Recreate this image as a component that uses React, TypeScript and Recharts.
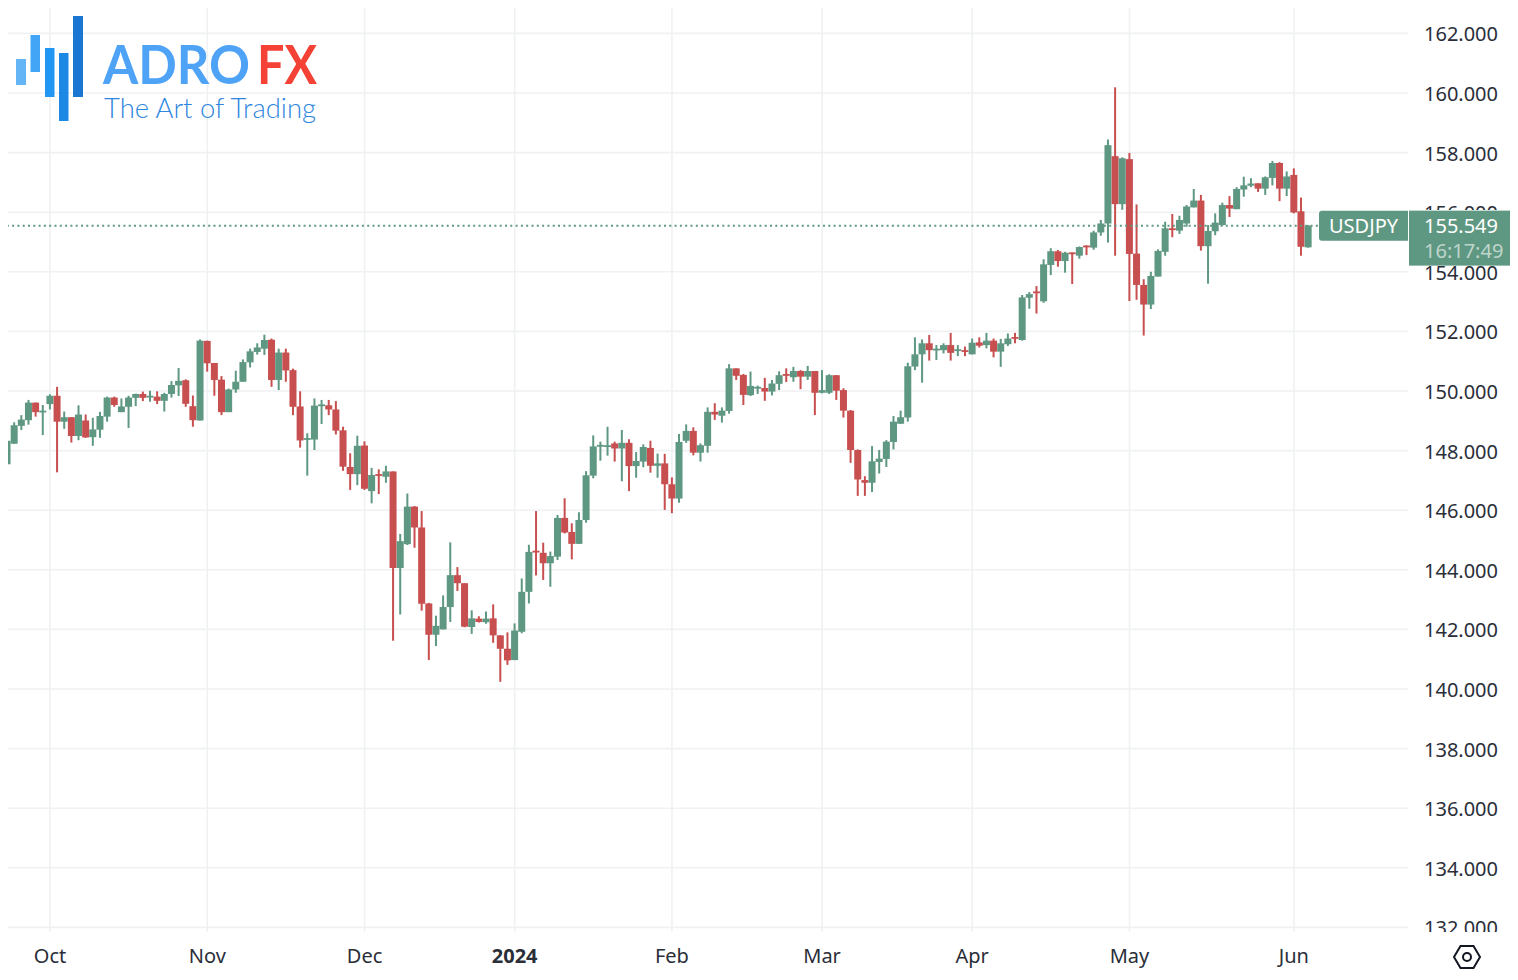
import { Bar, CartesianGrid, ComposedChart, ReferenceLine, XAxis, YAxis } from 'recharts'

const opens = [
  147.54, 148.23, 148.83, 149.02, 149.61, 149.31, 149.56, 149.84, 148.97, 149.12,
  148.49, 149.01, 148.45, 148.7, 149.14, 149.78, 149.29, 149.47, 149.77, 149.9,
  149.82, 149.81, 149.67, 149.9, 150.19, 150.36, 149.49, 149.01, 151.68, 150.94,
  150.38, 149.29, 150.05, 150.31, 150.96, 151.31, 151.42, 151.72, 150.37, 151.29,
  150.7, 149.48, 148.38, 148.37, 149.52, 149.52, 149.38, 148.68, 147.45, 147.21,
  148.17, 146.64, 147.21, 147.12, 147.3, 144.06, 144.86, 146.12, 145.42, 142.87,
  141.82, 142.0, 142.75, 143.82, 143.55, 142.08, 142.36, 142.24, 142.37, 141.8,
  141.35, 140.97, 141.92, 143.26, 144.64, 144.57, 144.22, 144.44, 145.74, 145.27,
  144.87, 145.67, 147.16, 148.13, 148.13, 148.24, 148.07, 148.26, 147.48, 147.63,
  148.09, 147.49, 147.57, 146.87, 146.39, 148.33, 148.66, 147.93, 148.16, 149.3,
  149.17, 149.33, 150.76, 150.54, 149.86, 150.1, 150.1, 149.98, 150.24, 150.57,
  150.46, 150.67, 150.48, 150.67, 149.94, 149.94, 150.53, 150.03, 149.34, 148.02,
  147.01, 146.92, 147.62, 147.72, 148.29, 148.9, 149.11, 150.82, 151.23, 151.6,
  151.37, 151.37, 151.54, 151.35, 151.37, 151.23, 151.63, 151.54, 151.69, 151.32,
  151.57, 151.81, 151.71, 153.13, 153.34, 153.01, 154.23, 154.69, 154.36, 154.65,
  154.54, 154.88, 154.81, 155.32, 155.62, 157.88, 156.27, 157.78, 154.61, 153.56,
  152.9, 153.84, 154.67, 155.46, 155.38, 155.62, 156.16, 156.39, 154.86, 155.36,
  155.57, 156.24, 156.1, 156.76, 156.89, 156.97, 156.79, 157.15, 157.65, 156.79,
  157.25, 156.03, 154.82,
]

const highs = [
  148.33, 148.95, 149.19, 149.7, 149.61, 149.53, 149.89, 150.14, 149.31, 149.12,
  149.52, 149.21, 149.1, 149.3, 149.81, 149.81, 149.75, 149.84, 149.91, 149.98,
  150.01, 149.99, 149.94, 150.33, 150.77, 150.39, 149.85, 151.73, 151.69, 150.94,
  150.5, 150.08, 150.68, 151.06, 151.42, 151.6, 151.89, 151.76, 151.42, 151.42,
  150.75, 149.99, 148.58, 149.75, 149.7, 149.7, 149.66, 148.8, 147.91, 148.5,
  148.31, 147.42, 147.37, 147.49, 147.3, 145.2, 146.56, 146.14, 145.97, 142.89,
  142.46, 143.14, 144.92, 144.09, 143.55, 142.64, 142.44, 142.6, 142.84, 141.8,
  141.9, 142.2, 143.71, 144.84, 145.97, 144.91, 144.61, 145.84, 146.4, 145.56,
  145.93, 147.31, 148.51, 148.3, 148.8, 148.3, 148.69, 148.38, 147.95, 148.21,
  148.33, 147.9, 147.89, 147.1, 148.56, 148.88, 148.78, 148.24, 149.45, 149.59,
  149.45, 150.9, 150.76, 150.57, 150.65, 150.18, 150.44, 150.37, 150.66, 150.76,
  150.81, 150.7, 150.84, 150.67, 150.7, 150.56, 150.53, 150.09, 149.36, 148.04,
  147.14, 148.15, 148.02, 148.35, 149.16, 149.34, 150.95, 151.8, 151.73, 151.88,
  151.54, 151.6, 151.95, 151.54, 151.49, 151.76, 151.8, 151.95, 151.76, 151.75,
  151.93, 151.95, 153.22, 153.32, 153.52, 154.42, 154.79, 154.73, 154.67, 154.65,
  154.85, 154.89, 155.38, 155.74, 158.44, 160.19, 157.84, 157.99, 156.26, 153.75,
  154.0, 154.75, 155.68, 155.94, 155.88, 156.24, 156.78, 156.58, 155.57, 155.96,
  156.32, 156.54, 156.84, 157.19, 157.14, 156.97, 157.2, 157.72, 157.68, 157.37,
  157.47, 156.49, 155.57,
]

const lows = [
  147.54, 148.23, 148.69, 148.87, 149.14, 148.52, 149.38, 147.27, 148.73, 148.27,
  148.35, 148.43, 148.16, 148.43, 148.97, 149.47, 149.29, 148.76, 149.49, 149.66,
  149.64, 149.56, 149.31, 149.78, 149.83, 149.47, 148.8, 149.01, 150.65, 149.84,
  149.19, 149.29, 149.94, 150.31, 150.79, 151.22, 151.21, 150.14, 150.03, 150.31,
  149.19, 148.1, 147.16, 148.02, 148.89, 149.19, 148.54, 147.32, 146.68, 146.84,
  146.68, 146.23, 146.54, 146.92, 141.62, 142.5, 144.83, 144.74, 142.63, 140.97,
  141.44, 142.0, 142.25, 143.29, 142.07, 141.85, 142.23, 142.19, 141.55, 140.24,
  140.81, 140.97, 141.87, 142.87, 143.81, 143.66, 143.43, 144.33, 145.22, 144.35,
  144.87, 145.58, 147.07, 147.66, 147.83, 147.63, 146.97, 146.64, 147.09, 147.44,
  147.26, 147.09, 146.01, 145.9, 146.25, 148.26, 147.84, 147.63, 147.93, 149.03,
  148.94, 149.24, 150.37, 149.53, 149.83, 149.9, 149.67, 149.85, 150.03, 150.3,
  150.31, 150.06, 150.37, 149.19, 149.92, 149.9, 149.7, 149.11, 147.59, 146.48,
  146.48, 146.61, 147.23, 147.45, 148.04, 148.9, 148.97, 150.7, 150.28, 151.02,
  151.04, 151.26, 151.02, 151.17, 151.17, 151.23, 151.46, 151.43, 151.13, 150.81,
  151.51, 151.6, 151.69, 152.76, 152.6, 152.96, 153.89, 154.17, 153.97, 153.59,
  154.44, 154.56, 154.74, 155.21, 154.98, 154.54, 156.08, 153.02, 153.06, 151.86,
  152.75, 153.84, 154.54, 155.16, 155.27, 155.51, 156.16, 154.71, 153.6, 155.23,
  155.55, 155.84, 156.1, 156.52, 156.84, 156.68, 156.58, 156.9, 156.37, 156.54,
  155.96, 154.54, 154.81,
]

const closes = [
  148.33, 148.85, 149.04, 149.61, 149.29, 149.34, 149.84, 148.97, 149.12, 148.49,
  149.21, 148.44, 148.71, 149.16, 149.78, 149.53, 149.48, 149.78, 149.9, 149.77,
  149.84, 149.67, 149.9, 150.2, 150.34, 149.57, 149.02, 151.69, 150.93, 150.37,
  149.29, 150.05, 150.31, 150.97, 151.33, 151.46, 151.71, 150.37, 151.29, 150.69,
  149.47, 148.34, 148.42, 149.51, 149.55, 149.38, 148.67, 147.46, 147.21, 148.16,
  146.72, 147.18, 147.18, 147.3, 144.06, 144.96, 146.12, 145.42, 142.86, 141.82,
  142.12, 142.75, 143.82, 143.55, 142.09, 142.37, 142.25, 142.36, 141.8, 141.35,
  140.96, 141.96, 143.26, 144.6, 144.6, 144.22, 144.46, 145.74, 145.25, 144.87,
  145.67, 147.17, 148.14, 148.19, 148.18, 148.07, 148.26, 147.48, 147.65, 148.12,
  147.49, 147.57, 146.87, 146.39, 148.29, 148.66, 147.93, 148.18, 149.3, 149.21,
  149.34, 150.76, 150.51, 149.87, 150.17, 150.14, 149.98, 150.25, 150.53, 150.52,
  150.67, 150.48, 150.67, 149.94, 150.03, 150.53, 150.01, 149.34, 148.02, 147.03,
  146.92, 147.64, 147.73, 148.3, 148.97, 149.12, 150.83, 151.23, 151.6, 151.37,
  151.42, 151.54, 151.28, 151.4, 151.34, 151.62, 151.52, 151.69, 151.32, 151.6,
  151.76, 151.78, 153.14, 153.25, 153.3, 154.25, 154.69, 154.36, 154.64, 154.6,
  154.83, 154.84, 155.32, 155.62, 158.25, 156.27, 157.81, 154.6, 153.56, 152.9,
  153.86, 154.7, 155.46, 155.42, 155.74, 156.19, 156.39, 154.86, 155.37, 155.65,
  156.24, 156.12, 156.78, 156.9, 156.96, 156.79, 157.17, 157.65, 156.79, 157.2,
  155.99, 154.84, 155.55,
]

const priceTicks = [132, 134, 136, 138, 140, 142, 144, 146, 148, 150, 152, 154, 156, 158, 160, 162]
const timeTicks = [6, 28, 50, 71, 93, 114, 135, 157, 180]
const timeLabels = ['Oct', 'Nov', 'Dec', '2024', 'Feb', 'Mar', 'Apr', 'May', 'Jun']

const symbol = 'USDJPY'
const lastPrice = 155.549
const countdown = '16:17:49'

const UP = '#5f9882'
const DOWN = '#c84f50'
const TEXT = '#2a2e39'
const FONT = '"Noto Sans", sans-serif'

const candles = opens.map((open, i) => ({
  i,
  open,
  high: highs[i],
  low: lows[i],
  close: closes[i],
  range: [lows[i], highs[i]],
}))

function Candle(props: any) {
  const { x, y, width, height, payload } = props
  const unit = height / (payload.high - payload.low)
  const top = y + (payload.high - Math.max(payload.open, payload.close)) * unit
  const bottom = y + (payload.high - Math.min(payload.open, payload.close)) * unit
  const color = payload.close >= payload.open ? UP : DOWN
  const mid = x + width / 2
  return (
    <g>
      <rect x={mid - 1} y={y} width={2} height={height} fill={color} />
      <rect x={x} y={top} width={width} height={Math.max(bottom - top, 1.8)} fill={color} />
    </g>
  )
}

function PriceTick({ x, y, payload }: any) {
  return (
    <text x={x} y={y + 8} fontSize={20} fontFamily={FONT} fill={TEXT} clipPath="url(#priceClip)">
      {payload.value.toFixed(3)}
    </text>
  )
}

function TimeTick({ x, y, payload }: any) {
  const label = timeLabels[timeTicks.indexOf(payload.value)]
  return (
    <text
      x={x}
      y={y + 7}
      textAnchor="middle"
      fontSize={20}
      fontFamily={FONT}
      fontWeight={label === '2024' ? 700 : 400}
      fill={TEXT}
    >
      {label}
    </text>
  )
}

function PriceTag({ viewBox }: any) {
  const y = viewBox.y
  const right = viewBox.x + viewBox.width
  return (
    <g fontFamily={FONT}>
      <path
        d={`M${right} ${y - 15}H${right - 86}a3 3 0 0 0 -3 3v24a3 3 0 0 0 3 3H${right}Z`}
        fill={UP}
      />
      <text x={right - 79} y={y + 7} fontSize={20} fill="#fff">
        {symbol}
      </text>
      <rect x={right + 1} y={y - 15} width={103} height={55} fill={UP} />
      <text x={right + 16} y={y + 7} fontSize={20} fill="#fff">
        {lastPrice.toFixed(3)}
      </text>
      <text x={right + 16} y={y + 32} fontSize={20} fill="#fff" fillOpacity={0.6}>
        {countdown}
      </text>
    </g>
  )
}

function Logo() {
  return (
    <svg
      width={340}
      height={130}
      style={{ position: 'absolute', left: -8, top: -8, pointerEvents: 'none' }}
    >
      <rect x={16} y={59} width={10} height={26} fill="#64b5f6" />
      <rect x={30.5} y={35} width={9.5} height={37} fill="#42a5f5" />
      <rect x={45} y={48} width={9.5} height={49} fill="#2196f3" />
      <rect x={59} y={53} width={9.5} height={68} fill="#1e88e5" />
      <rect x={73} y={16} width={10} height={81} fill="#1976d2" />
      <text x={103} y={84} fontFamily="Lato, sans-serif" fontWeight={700} fontSize={53} fill="#4fa3f7" textLength={147} lengthAdjust="spacingAndGlyphs">
        ADRO
      </text>
      <text x={257} y={84} fontFamily="Lato, sans-serif" fontWeight={700} fontSize={53} fill="#f44336" textLength={60} lengthAdjust="spacingAndGlyphs">
        FX
      </text>
      <text x={104} y={118} fontFamily="Lato, sans-serif" fontWeight={300} fontSize={27} fill="#2e86de" textLength={212} lengthAdjust="spacingAndGlyphs">
        The Art of Trading
      </text>
    </svg>
  )
}

function SettingsIcon() {
  return (
    <svg
      width={40}
      height={40}
      style={{ position: 'absolute', left: 1439, top: 929, pointerEvents: 'none' }}
    >
      <path d="M7 20L13.5 9H26.5L33 20L26.5 31H13.5Z" fill="none" stroke="#131722" strokeWidth={2} />
      <circle cx={20} cy={20} r={4} fill="none" stroke="#131722" strokeWidth={2} />
    </svg>
  )
}

export default function App() {
  return (
    <div style={{ position: 'relative', width: 1510, height: 964 }}>
      <ComposedChart
        width={1510}
        height={964}
        data={candles}
        margin={{ top: 0, right: 0, bottom: 0, left: 0 }}
      >
        <defs>
          <clipPath id="priceClip">
            <rect x={1400} y={0} width={110} height={202} />
            <rect x={1400} y={257} width={110} height={667} />
          </clipPath>
        </defs>
        <CartesianGrid stroke="#f0f1f3" strokeWidth={1.6} syncWithTicks />
        <XAxis
          dataKey="i"
          type="number"
          domain={[0.126, 195.96]}
          allowDataOverflow
          ticks={timeTicks}
          interval={0}
          height={40}
          axisLine={false}
          tickLine={false}
          tick={<TimeTick />}
          tickMargin={18}
        />
        <YAxis
          orientation="right"
          domain={[131.845, 162.852]}
          allowDataOverflow
          ticks={priceTicks}
          interval={0}
          width={110}
          axisLine={false}
          tickLine={false}
          tickSize={0}
          tick={<PriceTick />}
          tickMargin={16}
        />
        <Bar dataKey="range" barSize={7} shape={<Candle />} isAnimationActive={false} />
        <ReferenceLine
          y={lastPrice}
          stroke={UP}
          strokeWidth={2}
          strokeDasharray="2 3.3"
          ifOverflow="visible"
          label={<PriceTag />}
        />
      </ComposedChart>
      <Logo />
      <SettingsIcon />
    </div>
  )
}
